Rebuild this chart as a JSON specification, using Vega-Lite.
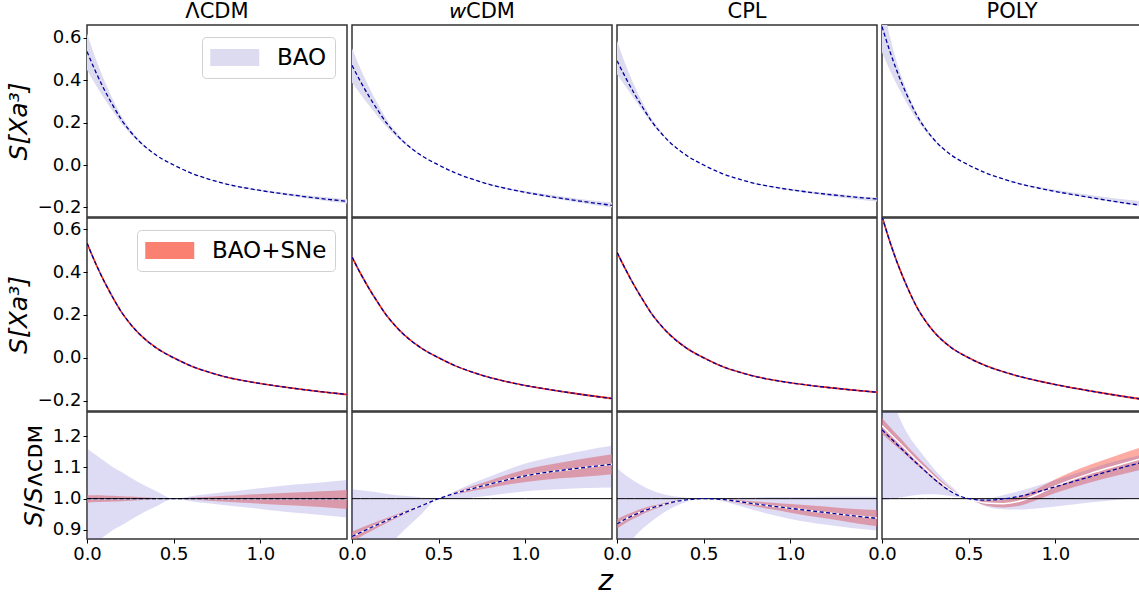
{
"$schema": "https://vega.github.io/schema/vega-lite/v6.json",
"padding": {"left": 5, "top": 0, "right": 0, "bottom": 0},
"background": "white",
"datasets": {"d": [
{"m":"L","z":0,"s":0.535,"sl":0.449,"sh":0.621,"t":0.535,"tl":0.529,"th":0.541,"r":1,"rl":0.84,"rh":1.16,"q":1,"ql":0.987,"qh":1.011},
{"m":"L","z":0.05,"s":0.44,"sl":0.378,"sh":0.502,"t":0.44,"tl":0.435,"th":0.445,"r":1,"rl":0.86,"rh":1.14,"q":1,"ql":0.989,"qh":1.011},
{"m":"L","z":0.1,"s":0.355,"sl":0.312,"sh":0.398,"t":0.355,"tl":0.351,"th":0.359,"r":1,"rl":0.88,"rh":1.12,"q":1,"ql":0.99,"qh":1.01},
{"m":"L","z":0.15,"s":0.28,"sl":0.252,"sh":0.308,"t":0.28,"tl":0.277,"th":0.283,"r":1,"rl":0.9,"rh":1.1,"q":1,"ql":0.991,"qh":1.009},
{"m":"L","z":0.2,"s":0.212,"sl":0.194,"sh":0.23,"t":0.212,"tl":0.21,"th":0.214,"r":1,"rl":0.915,"rh":1.085,"q":1,"ql":0.992,"qh":1.008},
{"m":"L","z":0.25,"s":0.158,"sl":0.147,"sh":0.169,"t":0.158,"tl":0.157,"th":0.159,"r":1,"rl":0.932,"rh":1.068,"q":1,"ql":0.993,"qh":1.007},
{"m":"L","z":0.3,"s":0.113,"sl":0.107,"sh":0.119,"t":0.113,"tl":0.112,"th":0.114,"r":1,"rl":0.948,"rh":1.052,"q":1,"ql":0.995,"qh":1.005},
{"m":"L","z":0.4,"s":0.046,"sl":0.045,"sh":0.047,"t":0.046,"tl":0.046,"th":0.046,"r":1,"rl":0.976,"rh":1.024,"q":1,"ql":0.998,"qh":1.002},
{"m":"L","z":0.5,"s":0,"sl":0,"sh":0,"t":0,"tl":0,"th":0,"r":1,"rl":1,"rh":1,"q":1,"ql":1,"qh":1},
{"m":"L","z":0.6,"s":-0.038,"sl":-0.0383,"sh":-0.0377,"t":-0.038,"tl":-0.0381,"th":-0.0379,"r":1,"rl":0.992,"rh":1.008,"q":1,"ql":0.997,"qh":1.003},
{"m":"L","z":0.7,"s":-0.066,"sl":-0.067,"sh":-0.065,"t":-0.066,"tl":-0.0664,"th":-0.0656,"r":1,"rl":0.985,"rh":1.015,"q":1,"ql":0.993,"qh":1.006},
{"m":"L","z":0.8,"s":-0.089,"sl":-0.091,"sh":-0.087,"t":-0.089,"tl":-0.0899,"th":-0.0881,"r":1,"rl":0.979,"rh":1.021,"q":1,"ql":0.99,"qh":1.009},
{"m":"L","z":0.9,"s":-0.106,"sl":-0.109,"sh":-0.103,"t":-0.106,"tl":-0.1074,"th":-0.1046,"r":1,"rl":0.973,"rh":1.027,"q":1,"ql":0.987,"qh":1.012},
{"m":"L","z":1.0,"s":-0.12,"sl":-0.124,"sh":-0.116,"t":-0.12,"tl":-0.1219,"th":-0.1181,"r":1,"rl":0.967,"rh":1.033,"q":1,"ql":0.984,"qh":1.015},
{"m":"L","z":1.2,"s":-0.143,"sl":-0.149,"sh":-0.137,"t":-0.143,"tl":-0.1461,"th":-0.14,"r":1,"rl":0.955,"rh":1.045,"q":1,"ql":0.978,"qh":1.02},
{"m":"L","z":1.35,"s":-0.158,"sl":-0.166,"sh":-0.15,"t":-0.158,"tl":-0.1619,"th":-0.1543,"r":1,"rl":0.948,"rh":1.052,"q":1,"ql":0.973,"qh":1.024},
{"m":"L","z":1.5,"s":-0.171,"sl":-0.181,"sh":-0.161,"t":-0.171,"tl":-0.1766,"th":-0.1662,"r":1,"rl":0.94,"rh":1.06,"q":1,"ql":0.967,"qh":1.028},
{"m":"w","z":0,"s":0.47,"sl":0.389,"sh":0.551,"t":0.47,"tl":0.462,"th":0.478,"r":0.879,"rl":0.728,"rh":1.03,"q":0.879,"ql":0.864,"qh":0.894},
{"m":"w","z":0.05,"s":0.392,"sl":0.333,"sh":0.452,"t":0.392,"tl":0.386,"th":0.399,"r":0.892,"rl":0.757,"rh":1.027,"q":0.892,"ql":0.878,"qh":0.906},
{"m":"w","z":0.1,"s":0.321,"sl":0.279,"sh":0.364,"t":0.321,"tl":0.317,"th":0.326,"r":0.905,"rl":0.786,"rh":1.024,"q":0.905,"ql":0.893,"qh":0.917},
{"m":"w","z":0.15,"s":0.257,"sl":0.228,"sh":0.286,"t":0.257,"tl":0.254,"th":0.26,"r":0.918,"rl":0.816,"rh":1.02,"q":0.918,"ql":0.908,"qh":0.928},
{"m":"w","z":0.2,"s":0.197,"sl":0.179,"sh":0.215,"t":0.197,"tl":0.195,"th":0.199,"r":0.93,"rl":0.844,"rh":1.016,"q":0.93,"ql":0.922,"qh":0.938},
{"m":"w","z":0.25,"s":0.149,"sl":0.138,"sh":0.16,"t":0.149,"tl":0.148,"th":0.15,"r":0.942,"rl":0.872,"rh":1.012,"q":0.942,"ql":0.9355,"qh":0.9485},
{"m":"w","z":0.3,"s":0.108,"sl":0.102,"sh":0.114,"t":0.108,"tl":0.107,"th":0.108,"r":0.954,"rl":0.899,"rh":1.009,"q":0.954,"ql":0.949,"qh":0.959},
{"m":"w","z":0.4,"s":0.045,"sl":0.0437,"sh":0.0462,"t":0.045,"tl":0.045,"th":0.045,"r":0.977,"rl":0.95,"rh":1.004,"q":0.977,"ql":0.975,"qh":0.979},
{"m":"w","z":0.5,"s":0,"sl":0,"sh":0,"t":0,"tl":0,"th":0,"r":1,"rl":1,"rh":1,"q":1,"ql":1,"qh":1},
{"m":"w","z":0.6,"s":-0.0387,"sl":-0.039,"sh":-0.038,"t":-0.0387,"tl":-0.0388,"th":-0.0385,"r":1.018,"rl":1.0,"rh":1.025,"q":1.018,"ql":1.014,"qh":1.022},
{"m":"w","z":0.7,"s":-0.0682,"sl":-0.0693,"sh":-0.0663,"t":-0.0682,"tl":-0.0687,"th":-0.0677,"r":1.033,"rl":1.004,"rh":1.05,"q":1.033,"ql":1.025,"qh":1.041},
{"m":"w","z":0.8,"s":-0.0932,"sl":-0.0954,"sh":-0.0899,"t":-0.0932,"tl":-0.0943,"th":-0.0921,"r":1.047,"rl":1.01,"rh":1.072,"q":1.047,"ql":1.035,"qh":1.059},
{"m":"w","z":0.9,"s":-0.1125,"sl":-0.1159,"sh":-0.1078,"t":-0.1125,"tl":-0.1142,"th":-0.1108,"r":1.061,"rl":1.017,"rh":1.093,"q":1.061,"ql":1.045,"qh":1.077},
{"m":"w","z":1.0,"s":-0.1288,"sl":-0.1334,"sh":-0.1229,"t":-0.1288,"tl":-0.1312,"th":-0.1264,"r":1.073,"rl":1.024,"rh":1.112,"q":1.073,"ql":1.053,"qh":1.093},
{"m":"w","z":1.2,"s":-0.1559,"sl":-0.1627,"sh":-0.1473,"t":-0.1559,"tl":-0.1594,"th":-0.1523,"r":1.09,"rl":1.03,"rh":1.138,"q":1.09,"ql":1.065,"qh":1.115},
{"m":"w","z":1.35,"s":-0.1738,"sl":-0.1825,"sh":-0.1634,"t":-0.1738,"tl":-0.1784,"th":-0.1692,"r":1.1,"rl":1.034,"rh":1.155,"q":1.1,"ql":1.071,"qh":1.129},
{"m":"w","z":1.5,"s":-0.1898,"sl":-0.1999,"sh":-0.1772,"t":-0.1898,"tl":-0.1953,"th":-0.1843,"r":1.11,"rl":1.036,"rh":1.169,"q":1.11,"ql":1.078,"qh":1.142},
{"m":"c","z":0,"s":0.4917,"sl":0.428,"sh":0.587,"t":0.4917,"tl":0.4836,"th":0.4997,"r":0.919,"rl":0.8,"rh":1.097,"q":0.919,"ql":0.904,"qh":0.934},
{"m":"c","z":0.05,"s":0.4114,"sl":0.37,"sh":0.473,"t":0.4114,"tl":0.4057,"th":0.4171,"r":0.935,"rl":0.84,"rh":1.075,"q":0.935,"ql":0.922,"qh":0.948},
{"m":"c","z":0.1,"s":0.3365,"sl":0.311,"sh":0.375,"t":0.3365,"tl":0.3326,"th":0.3404,"r":0.948,"rl":0.877,"rh":1.056,"q":0.948,"ql":0.937,"qh":0.959},
{"m":"c","z":0.15,"s":0.2688,"sl":0.253,"sh":0.291,"t":0.2688,"tl":0.2663,"th":0.2713,"r":0.96,"rl":0.905,"rh":1.04,"q":0.96,"ql":0.951,"qh":0.969},
{"m":"c","z":0.2,"s":0.2056,"sl":0.197,"sh":0.218,"t":0.2056,"tl":0.2042,"th":0.2071,"r":0.97,"rl":0.928,"rh":1.027,"q":0.97,"ql":0.963,"qh":0.977},
{"m":"c","z":0.25,"s":0.1545,"sl":0.15,"sh":0.161,"t":0.1545,"tl":0.1537,"th":0.1553,"r":0.978,"rl":0.948,"rh":1.017,"q":0.978,"ql":0.973,"qh":0.983},
{"m":"c","z":0.3,"s":0.1114,"sl":0.109,"sh":0.114,"t":0.1114,"tl":0.111,"th":0.1119,"r":0.986,"rl":0.965,"rh":1.01,"q":0.986,"ql":0.982,"qh":0.99},
{"m":"c","z":0.4,"s":0.0458,"sl":0.0455,"sh":0.0461,"t":0.0458,"tl":0.0458,"th":0.0458,"r":0.996,"rl":0.99,"rh":1.003,"q":0.996,"ql":0.995,"qh":0.997},
{"m":"c","z":0.5,"s":0,"sl":0,"sh":0,"t":0,"tl":0,"th":0,"r":1,"rl":1,"rh":1,"q":1,"ql":1,"qh":1},
{"m":"c","z":0.6,"s":-0.0379,"sl":-0.038,"sh":-0.0377,"t":-0.0379,"tl":-0.038,"th":-0.0378,"r":0.998,"rl":0.993,"rh":1.001,"q":0.998,"ql":0.996,"qh":1.0},
{"m":"c","z":0.7,"s":-0.0654,"sl":-0.0662,"sh":-0.0645,"t":-0.0654,"tl":-0.0657,"th":-0.0651,"r":0.991,"rl":0.978,"rh":1.003,"q":0.991,"ql":0.986,"qh":0.996},
{"m":"c","z":0.8,"s":-0.0875,"sl":-0.0894,"sh":-0.0856,"t":-0.0875,"tl":-0.0882,"th":-0.0868,"r":0.983,"rl":0.962,"rh":1.004,"q":0.983,"ql":0.975,"qh":0.991},
{"m":"c","z":0.9,"s":-0.1035,"sl":-0.1065,"sh":-0.1005,"t":-0.1035,"tl":-0.1046,"th":-0.1023,"r":0.976,"rl":0.948,"rh":1.005,"q":0.976,"ql":0.965,"qh":0.987},
{"m":"c","z":1.0,"s":-0.1163,"sl":-0.1206,"sh":-0.1122,"t":-0.1163,"tl":-0.118,"th":-0.1146,"r":0.969,"rl":0.935,"rh":1.005,"q":0.969,"ql":0.955,"qh":0.983},
{"m":"c","z":1.2,"s":-0.1367,"sl":-0.1439,"sh":-0.1311,"t":-0.1367,"tl":-0.1394,"th":-0.134,"r":0.956,"rl":0.917,"rh":1.006,"q":0.956,"ql":0.937,"qh":0.975},
{"m":"c","z":1.35,"s":-0.1495,"sl":-0.1589,"sh":-0.1431,"t":-0.1495,"tl":-0.1529,"th":-0.146,"r":0.946,"rl":0.906,"rh":1.006,"q":0.946,"ql":0.924,"qh":0.968},
{"m":"c","z":1.5,"s":-0.1602,"sl":-0.172,"sh":-0.1536,"t":-0.1604,"tl":-0.1648,"th":-0.156,"r":0.937,"rl":0.898,"rh":1.006,"q":0.938,"ql":0.912,"qh":0.964},
{"m":"p","z":0,"s":0.6527,"sl":0.532,"sh":0.776,"t":0.6597,"tl":0.6463,"th":0.673,"r":1.22,"rl":0.995,"rh":1.45,"q":1.233,"ql":1.208,"qh":1.258},
{"m":"p","z":0.05,"s":0.5249,"sl":0.439,"sh":0.59,"t":0.5302,"tl":0.5205,"th":0.5399,"r":1.193,"rl":0.998,"rh":1.34,"q":1.205,"ql":1.183,"qh":1.227},
{"m":"p","z":0.1,"s":0.4139,"sl":0.356,"sh":0.447,"t":0.4182,"tl":0.4114,"th":0.4249,"r":1.166,"rl":1.003,"rh":1.26,"q":1.178,"ql":1.159,"qh":1.197},
{"m":"p","z":0.15,"s":0.3189,"sl":0.282,"sh":0.337,"t":0.322,"tl":0.3175,"th":0.3265,"r":1.139,"rl":1.008,"rh":1.205,"q":1.15,"ql":1.134,"qh":1.166},
{"m":"p","z":0.2,"s":0.236,"sl":0.215,"sh":0.247,"t":0.2379,"tl":0.2349,"th":0.2408,"r":1.113,"rl":1.012,"rh":1.165,"q":1.122,"ql":1.108,"qh":1.136},
{"m":"p","z":0.25,"s":0.1719,"sl":0.16,"sh":0.179,"t":0.1732,"tl":0.1713,"th":0.1751,"r":1.088,"rl":1.014,"rh":1.13,"q":1.096,"ql":1.084,"qh":1.108},
{"m":"p","z":0.3,"s":0.1201,"sl":0.1146,"sh":0.1237,"t":0.1209,"tl":0.1198,"th":0.122,"r":1.063,"rl":1.014,"rh":1.095,"q":1.07,"ql":1.06,"qh":1.08},
{"m":"p","z":0.4,"s":0.047,"sl":0.0464,"sh":0.0478,"t":0.0472,"tl":0.047,"th":0.0474,"r":1.022,"rl":1.008,"rh":1.04,"q":1.026,"ql":1.021,"qh":1.031},
{"m":"p","z":0.5,"s":0,"sl":0,"sh":0,"t":0,"tl":0,"th":0,"r":1,"rl":1,"rh":1,"q":1,"ql":1,"qh":1},
{"m":"p","z":0.6,"s":-0.0378,"sl":-0.038,"sh":-0.0371,"t":-0.0375,"tl":-0.0378,"th":-0.0372,"r":0.995,"rl":0.975,"rh":1.0,"q":0.986,"ql":0.978,"qh":0.994},
{"m":"p","z":0.7,"s":-0.0659,"sl":-0.0668,"sh":-0.0638,"t":-0.0649,"tl":-0.0657,"th":-0.0642,"r":0.999,"rl":0.966,"rh":1.012,"q":0.984,"ql":0.972,"qh":0.996},
{"m":"p","z":0.8,"s":-0.0897,"sl":-0.0912,"sh":-0.0859,"t":-0.0884,"tl":-0.0897,"th":-0.087,"r":1.008,"rl":0.965,"rh":1.025,"q":0.993,"ql":0.978,"qh":1.008},
{"m":"p","z":0.9,"s":-0.1083,"sl":-0.1105,"sh":-0.1027,"t":-0.1076,"tl":-0.1095,"th":-0.1057,"r":1.022,"rl":0.969,"rh":1.042,"q":1.015,"ql":0.997,"qh":1.033},
{"m":"p","z":1.0,"s":-0.1246,"sl":-0.1272,"sh":-0.117,"t":-0.1248,"tl":-0.1274,"th":-0.1222,"r":1.038,"rl":0.975,"rh":1.06,"q":1.04,"ql":1.018,"qh":1.062},
{"m":"p","z":1.2,"s":-0.153,"sl":-0.1566,"sh":-0.1413,"t":-0.1544,"tl":-0.1584,"th":-0.1504,"r":1.07,"rl":0.988,"rh":1.095,"q":1.08,"ql":1.052,"qh":1.108},
{"m":"p","z":1.35,"s":-0.1729,"sl":-0.177,"sh":-0.1574,"t":-0.1746,"tl":-0.1796,"th":-0.1695,"r":1.094,"rl":0.996,"rh":1.12,"q":1.105,"ql":1.073,"qh":1.137},
{"m":"p","z":1.5,"s":-0.1908,"sl":-0.1949,"sh":-0.1715,"t":-0.1931,"tl":-0.1992,"th":-0.1869,"r":1.116,"rl":1.003,"rh":1.14,"q":1.129,"ql":1.093,"qh":1.165}
]},
"columns": 4,
"spacing": {"row": 1, "column": 5},
"bounds": "flush",
"align": "each",
"resolve": {"scale": {"color": "independent"}, "legend": {"color": "independent"}},
"concat": [
{"width": 260, "height": 192, "data": {"name": "d"}, "transform": [{"filter": "datum.m == 'L'"}], "title": "ΛCDM",
 "encoding": {"x": {"field": "z", "type": "quantitative", "scale": {"domain": [0, 1.5], "nice": false, "zero": false}, "axis": null}},
 "layer": [
  {"mark": {"type": "area", "clip": true}, "encoding": {"y": {"field": "sl", "type": "quantitative", "scale": {"domain": [-0.245, 0.66], "nice": false, "zero": false}, "axis": {"values": [-0.2, 0, 0.2, 0.4, 0.6], "format": ".1f", "title": "S[Xa³]", "titleFontStyle": "italic"}}, "y2": {"field": "sh"},
   "color": {"datum": "BAO", "scale": {"domain": ["BAO"], "range": ["#dcdbef"]}, "legend": {"orient": "top-right", "offset": 12, "title": null}}}},
  {"mark": {"type": "line", "clip": true, "color": "#00009a", "strokeDash": [4, 2.5], "strokeWidth": 1.3}, "encoding": {"y": {"field": "s", "type": "quantitative", "axis": {"values": [-0.2, 0, 0.2, 0.4, 0.6], "format": ".1f", "title": "S[Xa³]", "titleFontStyle": "italic"}}}}
 ]},
{"width": 260, "height": 192, "data": {"name": "d"}, "transform": [{"filter": "datum.m == 'w'"}], "title": "𝘸CDM",
 "encoding": {"x": {"field": "z", "type": "quantitative", "scale": {"domain": [0, 1.5], "nice": false, "zero": false}, "axis": null}},
 "layer": [
  {"mark": {"type": "area", "clip": true, "color": "#dcdbef"}, "encoding": {"y": {"field": "sl", "type": "quantitative", "scale": {"domain": [-0.245, 0.66], "nice": false, "zero": false}, "axis": null}, "y2": {"field": "sh"}}},
  {"mark": {"type": "line", "clip": true, "color": "#00009a", "strokeDash": [4, 2.5], "strokeWidth": 1.3}, "encoding": {"y": {"field": "s", "type": "quantitative", "axis": null}}}
 ]},
{"width": 260, "height": 192, "data": {"name": "d"}, "transform": [{"filter": "datum.m == 'c'"}], "title": "CPL",
 "encoding": {"x": {"field": "z", "type": "quantitative", "scale": {"domain": [0, 1.5], "nice": false, "zero": false}, "axis": null}},
 "layer": [
  {"mark": {"type": "area", "clip": true, "color": "#dcdbef"}, "encoding": {"y": {"field": "sl", "type": "quantitative", "scale": {"domain": [-0.245, 0.66], "nice": false, "zero": false}, "axis": null}, "y2": {"field": "sh"}}},
  {"mark": {"type": "line", "clip": true, "color": "#00009a", "strokeDash": [4, 2.5], "strokeWidth": 1.3}, "encoding": {"y": {"field": "s", "type": "quantitative", "axis": null}}}
 ]},
{"width": 260, "height": 192, "data": {"name": "d"}, "transform": [{"filter": "datum.m == 'p'"}], "title": "POLY",
 "encoding": {"x": {"field": "z", "type": "quantitative", "scale": {"domain": [0, 1.5], "nice": false, "zero": false}, "axis": null}},
 "layer": [
  {"mark": {"type": "area", "clip": true, "color": "#dcdbef"}, "encoding": {"y": {"field": "sl", "type": "quantitative", "scale": {"domain": [-0.245, 0.66], "nice": false, "zero": false}, "axis": null}, "y2": {"field": "sh"}}},
  {"mark": {"type": "line", "clip": true, "color": "#00009a", "strokeDash": [4, 2.5], "strokeWidth": 1.3}, "encoding": {"y": {"field": "s", "type": "quantitative", "axis": null}}}
 ]},
{"width": 260, "height": 193, "data": {"name": "d"}, "transform": [{"filter": "datum.m == 'L'"}],
 "encoding": {"x": {"field": "z", "type": "quantitative", "scale": {"domain": [0, 1.5], "nice": false, "zero": false}, "axis": null}},
 "layer": [
  {"mark": {"type": "area", "clip": true}, "encoding": {"y": {"field": "tl", "type": "quantitative", "scale": {"domain": [-0.248, 0.652], "nice": false, "zero": false}, "axis": {"values": [-0.2, 0, 0.2, 0.4, 0.6], "format": ".1f", "title": "S[Xa³]", "titleFontStyle": "italic"}}, "y2": {"field": "th"},
   "color": {"datum": "BAO+SNe", "scale": {"domain": ["BAO+SNe"], "range": ["#fa8072"]}, "legend": {"orient": "top-right", "offset": 12, "title": null}}}},
  {"mark": {"type": "line", "clip": true, "color": "#f03020", "strokeWidth": 1.6}, "encoding": {"y": {"field": "t", "type": "quantitative", "axis": {"values": [-0.2, 0, 0.2, 0.4, 0.6], "format": ".1f", "title": "S[Xa³]", "titleFontStyle": "italic"}}}},
  {"mark": {"type": "line", "clip": true, "color": "#00009a", "strokeDash": [4, 2.5], "strokeWidth": 1.3}, "encoding": {"y": {"field": "t", "type": "quantitative", "axis": {"values": [-0.2, 0, 0.2, 0.4, 0.6], "format": ".1f", "title": "S[Xa³]", "titleFontStyle": "italic"}}}}
 ]},
{"width": 260, "height": 193, "data": {"name": "d"}, "transform": [{"filter": "datum.m == 'w'"}],
 "encoding": {"x": {"field": "z", "type": "quantitative", "scale": {"domain": [0, 1.5], "nice": false, "zero": false}, "axis": null}},
 "layer": [
  {"mark": {"type": "area", "clip": true, "color": "#fa8072"}, "encoding": {"y": {"field": "tl", "type": "quantitative", "scale": {"domain": [-0.248, 0.652], "nice": false, "zero": false}, "axis": null}, "y2": {"field": "th"}}},
  {"mark": {"type": "line", "clip": true, "color": "#f03020", "strokeWidth": 1.6}, "encoding": {"y": {"field": "t", "type": "quantitative", "axis": null}}},
  {"mark": {"type": "line", "clip": true, "color": "#00009a", "strokeDash": [4, 2.5], "strokeWidth": 1.3}, "encoding": {"y": {"field": "t", "type": "quantitative", "axis": null}}}
 ]},
{"width": 260, "height": 193, "data": {"name": "d"}, "transform": [{"filter": "datum.m == 'c'"}],
 "encoding": {"x": {"field": "z", "type": "quantitative", "scale": {"domain": [0, 1.5], "nice": false, "zero": false}, "axis": null}},
 "layer": [
  {"mark": {"type": "area", "clip": true, "color": "#fa8072"}, "encoding": {"y": {"field": "tl", "type": "quantitative", "scale": {"domain": [-0.248, 0.652], "nice": false, "zero": false}, "axis": null}, "y2": {"field": "th"}}},
  {"mark": {"type": "line", "clip": true, "color": "#f03020", "strokeWidth": 1.6}, "encoding": {"y": {"field": "t", "type": "quantitative", "axis": null}}},
  {"mark": {"type": "line", "clip": true, "color": "#00009a", "strokeDash": [4, 2.5], "strokeWidth": 1.3}, "encoding": {"y": {"field": "t", "type": "quantitative", "axis": null}}}
 ]},
{"width": 260, "height": 193, "data": {"name": "d"}, "transform": [{"filter": "datum.m == 'p'"}],
 "encoding": {"x": {"field": "z", "type": "quantitative", "scale": {"domain": [0, 1.5], "nice": false, "zero": false}, "axis": null}},
 "layer": [
  {"mark": {"type": "area", "clip": true, "color": "#fa8072"}, "encoding": {"y": {"field": "tl", "type": "quantitative", "scale": {"domain": [-0.248, 0.652], "nice": false, "zero": false}, "axis": null}, "y2": {"field": "th"}}},
  {"mark": {"type": "line", "clip": true, "color": "#f03020", "strokeWidth": 1.6}, "encoding": {"y": {"field": "t", "type": "quantitative", "axis": null}}},
  {"mark": {"type": "line", "clip": true, "color": "#00009a", "strokeDash": [4, 2.5], "strokeWidth": 1.3}, "encoding": {"y": {"field": "t", "type": "quantitative", "axis": null}}}
 ]},
{"width": 260, "height": 127, "data": {"name": "d"}, "transform": [{"filter": "datum.m == 'L'"}],
 "encoding": {"x": {"field": "z", "type": "quantitative", "scale": {"domain": [0, 1.5], "nice": false, "zero": false}, "axis": {"values": [0, 0.5, 1], "format": ".1f", "title": null, "labelFlush": false, "labelOverlap": false}}},
 "layer": [
  {"mark": {"type": "area", "clip": true, "color": "#fa8072", "opacity": 0.65}, "encoding": {"y": {"field": "ql", "type": "quantitative", "scale": {"domain": [0.871, 1.277], "nice": false, "zero": false}, "axis": {"values": [0.9, 1.0, 1.1, 1.2], "format": ".1f", "title": "𝘚/𝘚ᴧᴄᴅᴍ"}}, "y2": {"field": "qh"}}},
  {"mark": {"type": "area", "clip": true, "color": "#6a5acd", "opacity": 0.22}, "encoding": {"y": {"field": "rl", "type": "quantitative", "axis": {"values": [0.9, 1.0, 1.1, 1.2], "format": ".1f", "title": "𝘚/𝘚ᴧᴄᴅᴍ"}}, "y2": {"field": "rh"}}},
  {"mark": {"type": "line", "clip": true, "color": "white", "strokeWidth": 1.5}, "encoding": {"y": {"field": "q", "type": "quantitative", "axis": {"values": [0.9, 1.0, 1.1, 1.2], "format": ".1f", "title": "𝘚/𝘚ᴧᴄᴅᴍ"}}}},
  {"mark": {"type": "line", "clip": true, "color": "#00009a", "strokeDash": [4, 2.5], "strokeWidth": 1.3}, "encoding": {"y": {"field": "r", "type": "quantitative", "axis": {"values": [0.9, 1.0, 1.1, 1.2], "format": ".1f", "title": "𝘚/𝘚ᴧᴄᴅᴍ"}}}},
  {"mark": {"type": "line", "clip": true, "color": "black", "strokeWidth": 1, "interpolate": "linear"}, "encoding": {"y": {"datum": 1, "type": "quantitative", "axis": {"values": [0.9, 1.0, 1.1, 1.2], "format": ".1f", "title": "𝘚/𝘚ᴧᴄᴅᴍ"}}}}
 ]},
{"width": 260, "height": 127, "data": {"name": "d"}, "transform": [{"filter": "datum.m == 'w'"}],
 "encoding": {"x": {"field": "z", "type": "quantitative", "scale": {"domain": [0, 1.5], "nice": false, "zero": false}, "axis": {"values": [0, 0.5, 1], "format": ".1f", "title": "z", "titleFontStyle": "italic", "titleFontSize": 28, "titleX": 253, "titlePadding": 4, "labelFlush": false, "labelOverlap": false}}},
 "layer": [
  {"mark": {"type": "area", "clip": true, "color": "#fa8072", "opacity": 0.65}, "encoding": {"y": {"field": "ql", "type": "quantitative", "scale": {"domain": [0.871, 1.277], "nice": false, "zero": false}, "axis": null}, "y2": {"field": "qh"}}},
  {"mark": {"type": "area", "clip": true, "color": "#6a5acd", "opacity": 0.22}, "encoding": {"y": {"field": "rl", "type": "quantitative", "axis": null}, "y2": {"field": "rh"}}},
  {"mark": {"type": "line", "clip": true, "color": "white", "strokeWidth": 1.5}, "encoding": {"y": {"field": "q", "type": "quantitative", "axis": null}}},
  {"mark": {"type": "line", "clip": true, "color": "black", "strokeWidth": 1, "interpolate": "linear"}, "encoding": {"y": {"datum": 1, "type": "quantitative", "axis": null}}},
  {"mark": {"type": "line", "clip": true, "color": "#00009a", "strokeDash": [4, 2.5], "strokeWidth": 1.3}, "encoding": {"y": {"field": "r", "type": "quantitative", "axis": null}}}
 ]},
{"width": 260, "height": 127, "data": {"name": "d"}, "transform": [{"filter": "datum.m == 'c'"}],
 "encoding": {"x": {"field": "z", "type": "quantitative", "scale": {"domain": [0, 1.5], "nice": false, "zero": false}, "axis": {"values": [0, 0.5, 1], "format": ".1f", "title": null, "labelFlush": false, "labelOverlap": false}}},
 "layer": [
  {"mark": {"type": "area", "clip": true, "color": "#fa8072", "opacity": 0.65}, "encoding": {"y": {"field": "ql", "type": "quantitative", "scale": {"domain": [0.871, 1.277], "nice": false, "zero": false}, "axis": null}, "y2": {"field": "qh"}}},
  {"mark": {"type": "area", "clip": true, "color": "#6a5acd", "opacity": 0.22}, "encoding": {"y": {"field": "rl", "type": "quantitative", "axis": null}, "y2": {"field": "rh"}}},
  {"mark": {"type": "line", "clip": true, "color": "white", "strokeWidth": 1.5}, "encoding": {"y": {"field": "q", "type": "quantitative", "axis": null}}},
  {"mark": {"type": "line", "clip": true, "color": "black", "strokeWidth": 1, "interpolate": "linear"}, "encoding": {"y": {"datum": 1, "type": "quantitative", "axis": null}}},
  {"mark": {"type": "line", "clip": true, "color": "#00009a", "strokeDash": [4, 2.5], "strokeWidth": 1.3}, "encoding": {"y": {"field": "r", "type": "quantitative", "axis": null}}}
 ]},
{"width": 260, "height": 127, "data": {"name": "d"}, "transform": [{"filter": "datum.m == 'p'"}],
 "encoding": {"x": {"field": "z", "type": "quantitative", "scale": {"domain": [0, 1.5], "nice": false, "zero": false}, "axis": {"values": [0, 0.5, 1], "format": ".1f", "title": null, "labelFlush": false, "labelOverlap": false}}},
 "layer": [
  {"mark": {"type": "area", "clip": true, "color": "#fa8072", "opacity": 0.65}, "encoding": {"y": {"field": "ql", "type": "quantitative", "scale": {"domain": [0.871, 1.277], "nice": false, "zero": false}, "axis": null}, "y2": {"field": "qh"}}},
  {"mark": {"type": "area", "clip": true, "color": "#6a5acd", "opacity": 0.22}, "encoding": {"y": {"field": "rl", "type": "quantitative", "axis": null}, "y2": {"field": "rh"}}},
  {"mark": {"type": "line", "clip": true, "color": "white", "strokeWidth": 1.5}, "encoding": {"y": {"field": "q", "type": "quantitative", "axis": null}}},
  {"mark": {"type": "line", "clip": true, "color": "black", "strokeWidth": 1, "interpolate": "linear"}, "encoding": {"y": {"datum": 1, "type": "quantitative", "axis": null}}},
  {"mark": {"type": "line", "clip": true, "color": "#00009a", "strokeDash": [4, 2.5], "strokeWidth": 1.3}, "encoding": {"y": {"field": "r", "type": "quantitative", "axis": null}}}
 ]}
],
"config": {
 "font": "DejaVu Sans",
 "view": {"stroke": "#333333", "strokeWidth": 1.5},
 "area": {"interpolate": "monotone"},
 "line": {"interpolate": "monotone"},
 "axis": {"grid": false, "domain": false, "labelFontSize": 18, "labelColor": "#000000", "tickColor": "#000000", "tickSize": 4, "labelPadding": 2, "labelFont": "DejaVu Sans", "titleFont": "DejaVu Sans", "titleFontWeight": "normal", "titleColor": "#000000", "titleFontSize": 25, "titlePadding": 6},
 "title": {"fontSize": 21, "fontWeight": "normal", "font": "DejaVu Sans", "color": "#000000", "offset": 3},
 "legend": {"symbolType": "M-1,-0.7H3V0.7H-1Z", "symbolSize": 600, "symbolStrokeWidth": 0, "symbolOpacity": 1, "labelFontSize": 23, "labelFont": "DejaVu Sans", "labelColor": "#000000", "labelOffset": 42, "padding": 8, "fillColor": "white", "strokeColor": "#d0d0d0", "cornerRadius": 4}
}
}
